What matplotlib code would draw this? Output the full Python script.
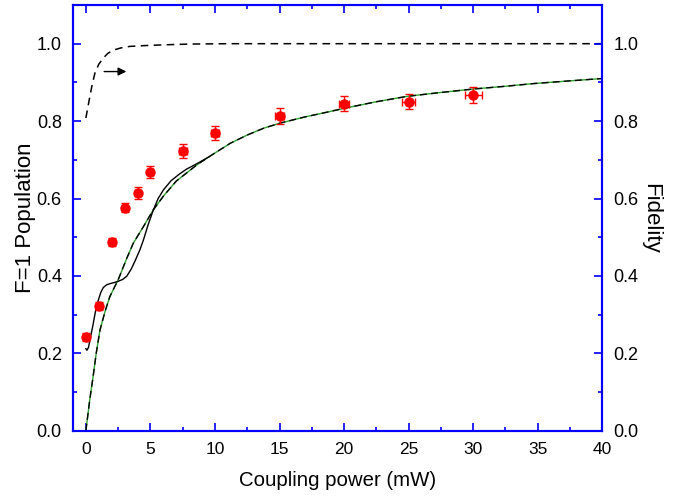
import numpy as np
import matplotlib.pyplot as plt

plt.rcParams['font.family'] = ['Liberation Sans', 'DejaVu Sans']

# measured F=1 population
power = [0, 1, 2, 3, 4, 5, 7.5, 10, 15, 20, 25, 30]
population = [0.243, 0.323, 0.488, 0.576, 0.615, 0.669, 0.723, 0.770, 0.813, 0.845, 0.850, 0.868]
pop_err = [0.010, 0.010, 0.010, 0.012, 0.015, 0.015, 0.018, 0.018, 0.02, 0.02, 0.02, 0.02]
power_err = [0.2, 0.2, 0.2, 0.2, 0.2, 0.2, 0.3, 0.3, 0.35, 0.4, 0.5, 0.65]

# smooth model curve (green with dashed black on top)
model_x = [0, 0.3, 0.56, 0.8, 1.09, 1.5, 1.86, 2.5, 3.16, 3.68, 4.45, 5.23, 6.0, 7.0, 8.6,
           9.5, 10.3, 11.2, 12.5, 13.8, 15.07, 17.0, 18.95, 20, 22.5, 24.9, 27.5, 30.05, 32.5, 34.7, 37.5, 40]
model_y = [0.0, 0.08, 0.14, 0.20, 0.26, 0.31, 0.347, 0.39, 0.445, 0.485, 0.527, 0.571, 0.606, 0.645, 0.687,
           0.707, 0.724, 0.743, 0.764, 0.782, 0.795, 0.811, 0.825, 0.833, 0.850, 0.864, 0.874, 0.883, 0.890, 0.897, 0.904, 0.910]

# full simulation curve (solid black)
sim_x = [0, 0.08, 0.2, 0.35, 0.56, 0.75, 0.97, 1.15, 1.35, 1.6, 1.86, 2.2, 2.5, 2.85, 3.16,
         3.5, 3.8, 4.19, 4.45, 4.8, 5.23, 5.6, 6.0, 6.6, 7.2, 7.8, 8.6, 9.5]
sim_y = [0.212, 0.208, 0.215, 0.24, 0.275, 0.31, 0.338, 0.357, 0.370, 0.377, 0.380, 0.383, 0.386, 0.391, 0.399,
         0.417, 0.438, 0.468, 0.492, 0.530, 0.571, 0.600, 0.622, 0.646, 0.662, 0.676, 0.690, 0.707]

# fidelity (dashed, right axis)
fid_x = [0.0, 0.15, 0.31, 0.5, 0.7, 1.0, 1.35, 1.7, 2.1, 2.7, 3.4, 4.5, 6, 8, 11, 20, 30, 40]
fid_y = [0.808, 0.835, 0.864, 0.896, 0.924, 0.947, 0.963, 0.975, 0.983, 0.989, 0.993, 0.995, 0.997,
         0.999, 1.0, 1.0, 1.0, 1.0]

blue = '#0000FF'
fig = plt.figure(figsize=(6.82, 4.98), dpi=100)
ax = fig.add_axes([0.107, 0.135, 0.776, 0.855])

ax.plot(model_x, model_y, color='#2ca02c', lw=1.0)
ax.plot(model_x, model_y, color='black', lw=1.0, dashes=(5, 3))
ax.plot(sim_x, sim_y, color='black', lw=1.0)
ax.plot(fid_x, fid_y, color='black', lw=1.1, dashes=(5, 3.5))
ax.errorbar(power, population, yerr=pop_err, xerr=power_err, fmt='o', color='red',
            ms=6.5, elinewidth=1, capsize=3, capthick=1)
ax.annotate('', xy=(3.35, 0.928), xytext=(1.2, 0.928),
            arrowprops=dict(arrowstyle='-|>', color='black', lw=1, mutation_scale=12))

ax.set_xlim(-1, 40)
ax.set_ylim(0, 1.1)
ax.set_xticks(np.arange(0, 41, 5))
ax.set_xticks(np.arange(0, 41, 2.5), minor=True)
ax.set_yticks(np.arange(0, 1.01, 0.2))
ax.set_yticks(np.arange(0, 1.1, 0.1), minor=True)
ax.yaxis.set_major_formatter(plt.FormatStrFormatter('%.1f'))
ax.tick_params(which='both', direction='in', color=blue, top=True, right=False)
ax.tick_params(axis='x', labelsize=12.5, pad=8)
ax.tick_params(axis='y', labelsize=13, pad=8)
ax.tick_params(which='major', length=6, width=1.2)
ax.tick_params(which='minor', length=3, width=1.2)
for s in ax.spines.values():
    s.set_color(blue)
    s.set_linewidth(1.5)
ax.set_xlabel('Coupling power (mW)', fontsize=14.7, labelpad=10)
ax.set_ylabel('F=1 Population', fontsize=16, labelpad=0.5)

ax2 = ax.twinx()
ax2.set_ylim(0, 1.1)
ax2.set_yticks(np.arange(0, 1.01, 0.2))
ax2.set_yticks(np.arange(0, 1.1, 0.1), minor=True)
ax2.yaxis.set_major_formatter(plt.FormatStrFormatter('%.1f'))
ax2.tick_params(which='both', direction='in', color=blue, labelsize=13, pad=8)
ax2.tick_params(which='major', length=6, width=1.2)
ax2.tick_params(which='minor', length=3, width=1.2)
for s in ax2.spines.values():
    s.set_color(blue)
    s.set_linewidth(1.5)
ax2.set_ylabel('Fidelity', fontsize=16, rotation=270, labelpad=16)

fig.savefig('out.png', dpi=100)
